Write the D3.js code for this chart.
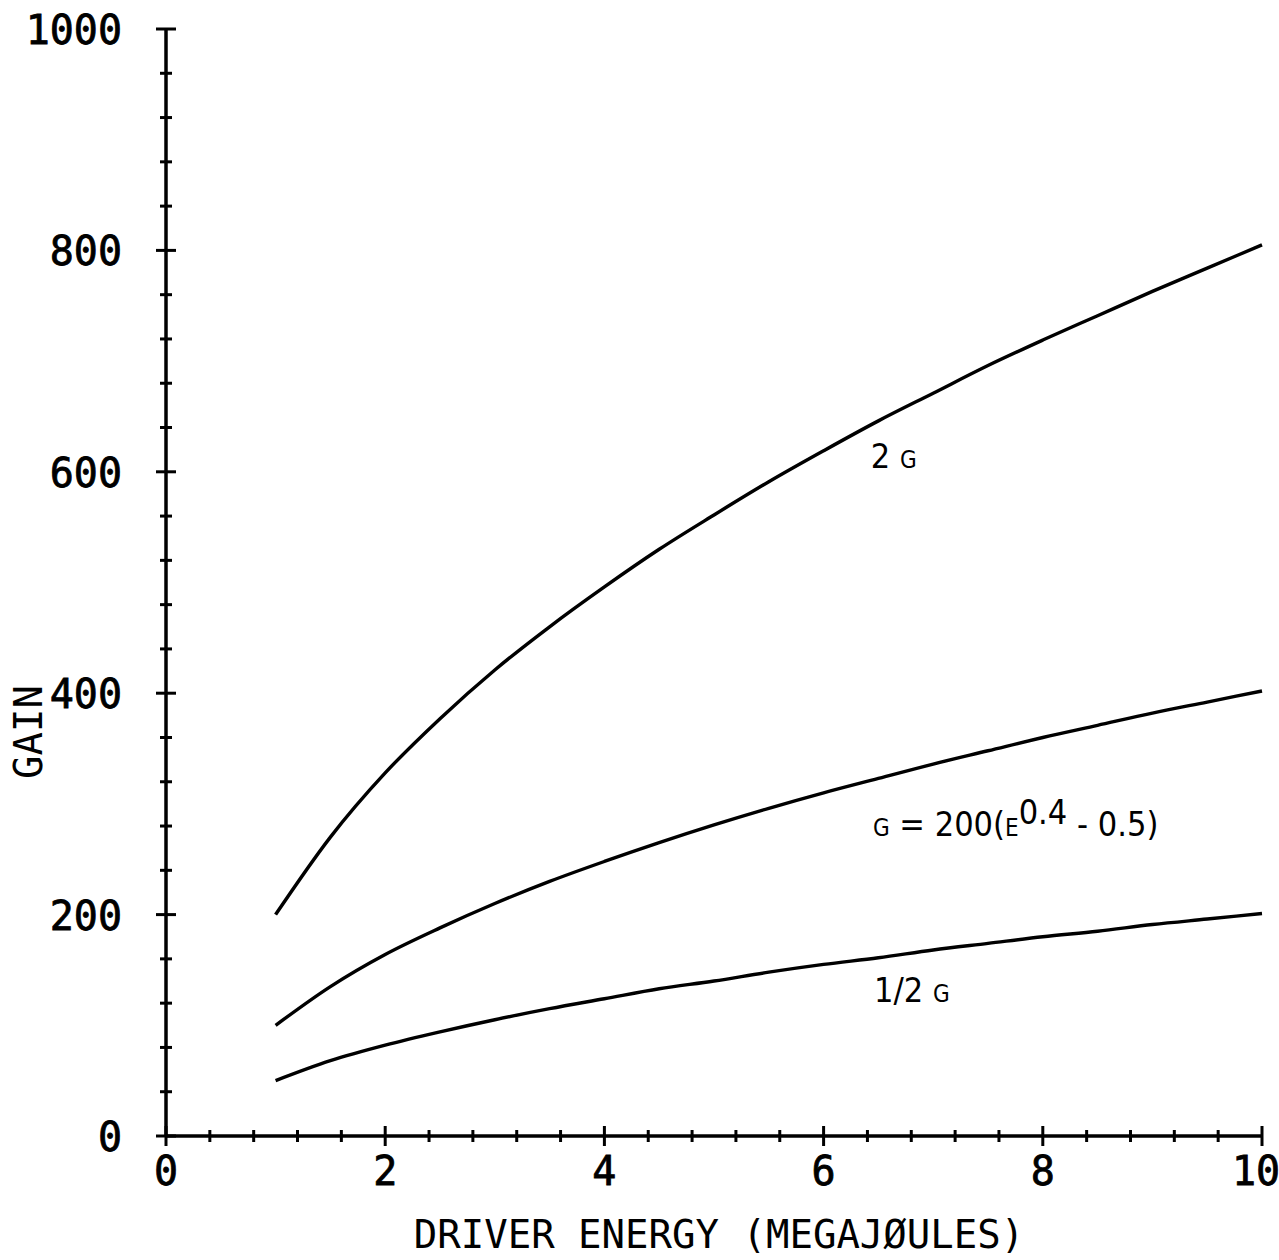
<!DOCTYPE html>
<html><head><meta charset="utf-8">
<script src="https://cdn.jsdelivr.net/npm/d3@7"></script>
<style>
body{margin:0;background:#fff;}
svg{display:block;}
.tick-label{font-family:"DejaVu Sans Mono",monospace;font-size:40px;fill:#000;stroke:#000;stroke-width:0.8px;}
.axis-title{font-family:"DejaVu Sans Mono",monospace;font-size:39px;fill:#000;}
.curve-label{font-family:"DejaVu Sans Condensed","Liberation Sans Narrow","DejaVu Sans",sans-serif;fill:#000;}
</style></head>
<body>
<script>
// Data
const energy = [1,1.5,2,2.5,3,3.5,4,4.5,5,5.5,6,6.5,7,7.5,8,8.5,9,9.5,10];
const gainG = [100,135,164,188,210,230,248,265,281,296,310,323,336,348,360,371,382,392,402];
const gain2G = [200,270,328,377,421,460,496,530,561,591,619,646,671,696,719,741,763,784,805];
const gainHalfG = [50,68,82,94,105,115,124,133,140,148,155,161,168,174,180,185,191,196,201];
const xTicks = [0,2,4,6,8,10];
const yTicks = [0,200,400,600,800,1000];
const xTitle = "DRIVER ENERGY (MEGAJØULES)";
const yTitle = "GAIN";

const W = 1279, H = 1260;
const svg = d3.select("body").append("svg").attr("width", W).attr("height", H);
const x = d3.scaleLinear().domain([0,10]).range([166,1262]);
const y = d3.scaleLinear().domain([0,1000]).range([1136,29]);

const g = svg.append("g");
// axes lines
g.append("line").attr("x1", x(0)).attr("x2", x(10)).attr("y1", y(0)).attr("y2", y(0)).attr("stroke","#000").attr("stroke-width",3.5);
g.append("line").attr("x1", x(0)).attr("x2", x(0)).attr("y1", y(0)).attr("y2", y(1000)).attr("stroke","#000").attr("stroke-width",3.5);

// minor ticks
const xMinor = d3.range(0, 10.001, 0.4).map(v => +v.toFixed(1));
const yMinor = d3.range(0, 1000.1, 40);
g.selectAll(".xm").data(xMinor.filter(v => !xTicks.includes(v))).enter().append("line")
  .attr("x1", d => x(d)).attr("x2", d => x(d)).attr("y1", y(0)-6).attr("y2", y(0)+6)
  .attr("stroke","#000").attr("stroke-width",3);
g.selectAll(".ym").data(yMinor.filter(v => !yTicks.includes(v))).enter().append("line")
  .attr("x1", x(0)-6).attr("x2", x(0)+6).attr("y1", d => y(d)).attr("y2", d => y(d))
  .attr("stroke","#000").attr("stroke-width",3);
// major ticks
g.selectAll(".xM").data(xTicks).enter().append("line")
  .attr("x1", d => x(d)).attr("x2", d => x(d)).attr("y1", y(0)-10).attr("y2", y(0)+10)
  .attr("stroke","#000").attr("stroke-width",3);
g.selectAll(".yM").data(yTicks).enter().append("line")
  .attr("x1", x(0)-10).attr("x2", x(0)+10).attr("y1", d => y(d)).attr("y2", d => y(d))
  .attr("stroke","#000").attr("stroke-width",3);

// tick labels
g.selectAll(".xl").data(xTicks).enter().append("text").attr("class","tick-label")
  .attr("x", d => x(d) - (d===10 ? 6 : 0)).attr("y", y(0)+49).attr("text-anchor","middle").text(d => d);
g.selectAll(".yl").data(yTicks).enter().append("text").attr("class","tick-label")
  .attr("x", x(0)-44).attr("y", d => y(d)+15).attr("text-anchor","end").text(d => d);

// titles
svg.append("text").attr("class","axis-title").attr("x", 719).attr("y", 1248)
  .attr("text-anchor","middle").text(xTitle);
svg.append("text").attr("class","axis-title")
  .attr("transform", "translate(42,732) rotate(-90)")
  .attr("text-anchor","middle").text(yTitle);

// curves
const line = d3.line().x((d,i) => x(energy[i])).y(d => y(d)).curve(d3.curveMonotoneX);
[gain2G, gainG, gainHalfG].forEach(s => {
  g.append("path").attr("d", line(s)).attr("fill","none").attr("stroke","#000").attr("stroke-width",3.4);
});

// curve labels
const l1 = svg.append("text").attr("class","curve-label").attr("x", x(6.43)).attr("y", y(603)).attr("font-size",34);
l1.append("tspan").text("2 ");
l1.append("tspan").attr("font-size",24).text("G");

const l2 = svg.append("text").attr("class","curve-label").attr("x", x(6.45)).attr("y", y(271)).attr("font-size",34);
l2.append("tspan").attr("font-size",24).text("G");
l2.append("tspan").text(" = 200(");
l2.append("tspan").attr("font-size",24).text("E");
l2.append("tspan").attr("dy",-12).text("0.4");
l2.append("tspan").attr("dy",12).text(" - 0.5)");

const l3 = svg.append("text").attr("class","curve-label").attr("x", x(6.46)).attr("y", y(121)).attr("font-size",34);
l3.append("tspan").text("1/2 ");
l3.append("tspan").attr("font-size",24).text("G");
</script>
</body></html>
